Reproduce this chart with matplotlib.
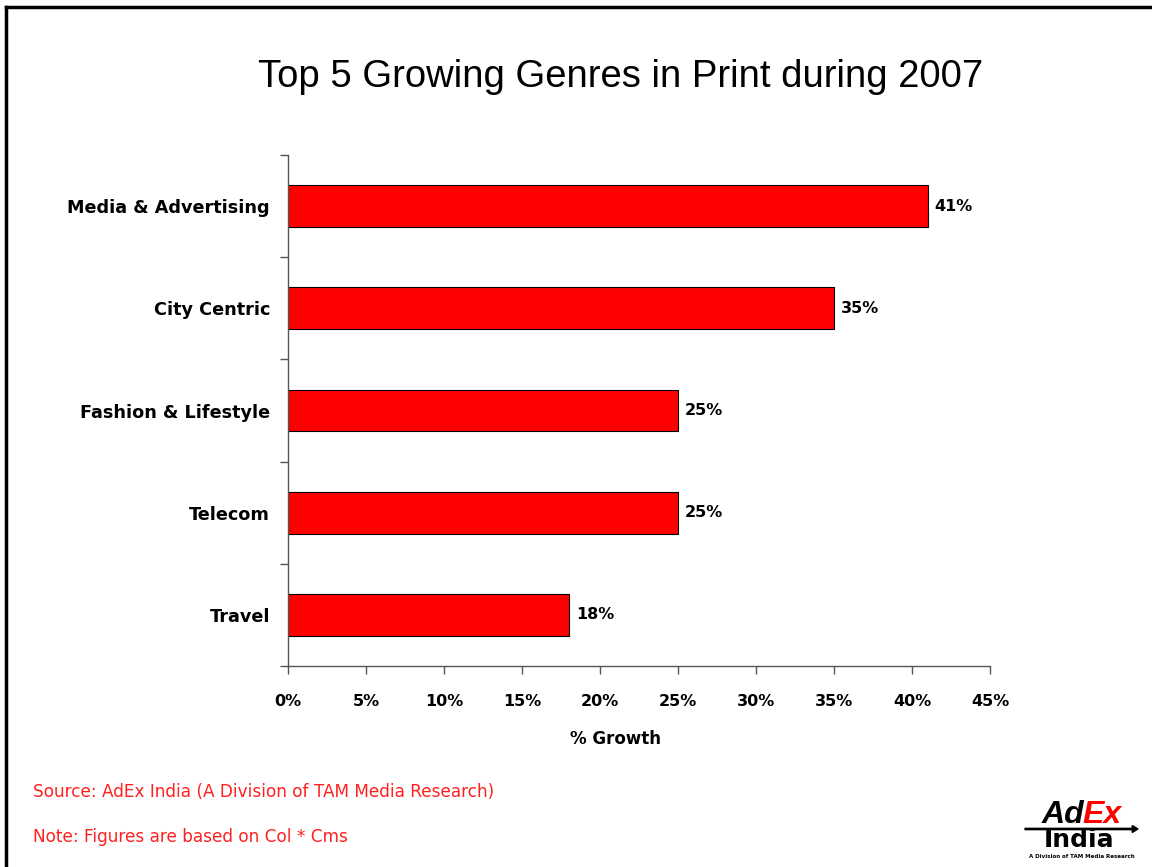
import numpy as np
import matplotlib.pyplot as plt
from matplotlib.patches import FancyArrow

# chart data
genres = ["Media & Advertising", "City Centric", "Fashion & Lifestyle", "Telecom", "Travel"]
growth = [41, 35, 25, 25, 18]
xticks = [0, 5, 10, 15, 20, 25, 30, 35, 40, 45]
xtick_labels = ["%d%%" % v for v in xticks]

title = "Top 5 Growing Genres in Print during 2007"
source_note = "Source: AdEx India (A Division of TAM Media Research)"
figure_note = "Note: Figures are based on Col * Cms"

W, H = 1152, 867
fig = plt.figure(figsize=(W / 100, H / 100), dpi=100)

# axes placed in pixel terms of the slide
ax = fig.add_axes([288 / W, 1 - 666 / H, (990 - 288) / W, (666 - 155) / H])

ypos = np.arange(len(genres))[::-1]
ax.barh(ypos, growth, height=0.41, color="#ff0000", edgecolor="#000000", linewidth=0.8)

for y, v in zip(ypos, growth):
    ax.annotate("%d%%" % v, (v, y), xytext=(5, 0), textcoords="offset points",
                va="center", ha="left", fontsize=11.5, fontweight="bold",
                family="DejaVu Sans")

ax.set_xlim(0, 45)
ax.set_ylim(-0.5, len(genres) - 0.5)
ax.set_xticks(xticks)
ax.set_xticklabels(xtick_labels, fontsize=11.5, fontweight="bold")
ax.set_yticks(ypos)
ax.set_yticklabels(genres, fontsize=12.7, fontweight="bold")
ax.set_yticks(np.arange(-0.5, len(genres), 1.0), minor=True)
ax.tick_params(axis="y", which="major", length=0, pad=13)
ax.tick_params(axis="y", which="minor", length=6, width=1, color="#555555")
ax.tick_params(axis="x", length=6, width=1, color="#555555", pad=14)

ax.set_xlabel("% Growth", fontsize=12, fontweight="bold")
ax.xaxis.set_label_coords((615 - 288) / (990 - 288), -0.125)

for s in ["top", "right"]:
    ax.spines[s].set_visible(False)
for s in ["left", "bottom"]:
    ax.spines[s].set_color("#555555")
    ax.spines[s].set_linewidth(1)

fig.text(621 / W, 1 - 77 / H, title, ha="center", va="center", fontsize=27.5,
         family="Liberation Sans")

fig.text(33 / W, 1 - 792 / H, source_note, ha="left", va="center", fontsize=12.2,
         color="#ff2020")
fig.text(33 / W, 1 - 837 / H, figure_note, ha="left", va="center", fontsize=12.2,
         color="#ff2020")

# logo, drawn as text
fig.text(1084 / W, 1 - 823 / H, "Ad", ha="right", va="baseline", fontsize=23,
         fontweight="bold", style="italic", family="Liberation Sans")
fig.text(1082 / W, 1 - 823 / H, "Ex", ha="left", va="baseline", fontsize=23,
         fontweight="bold", style="italic", family="Liberation Sans", color="#ff0000")
fig.text(1079 / W, 1 - 847 / H, "India", ha="center", va="baseline", fontsize=18,
         fontweight="bold", family="DejaVu Sans")
fig.add_artist(FancyArrow(1025 / W, 1 - 829 / H, 113 / W, 0, width=0.0015,
                          head_width=0.008, head_length=0.005, color="black",
                          transform=fig.transFigure, length_includes_head=True))
fig.text(1082 / W, 1 - 857 / H, "A Division of TAM Media Research", ha="center",
         va="center", fontsize=4, fontweight="bold")

# slide border (left and top only)
fig.add_artist(plt.Line2D([6 / W, 6 / W], [0, 1 - 7 / H], color="black", lw=2.5,
                          transform=fig.transFigure))
fig.add_artist(plt.Line2D([6 / W, 1], [1 - 7 / H, 1 - 7 / H], color="black", lw=2.5,
                          transform=fig.transFigure))

fig.savefig("out.png", dpi=100, facecolor="white")
